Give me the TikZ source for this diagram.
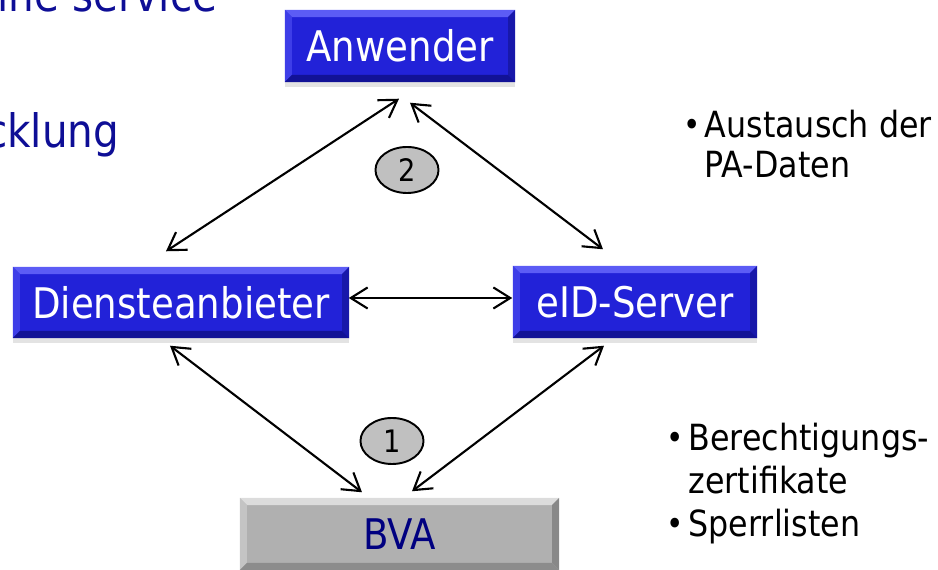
\documentclass[tikz,border=0pt]{standalone}
\usepackage{fontspec}
\setmainfont{DejaVu Sans}[FakeStretch=0.88]
\usetikzlibrary{arrows.meta,shapes.geometric,shadows}
\definecolor{boxblue}{RGB}{34,34,216}
\definecolor{bluetop}{RGB}{92,92,245}
\definecolor{blueleft}{RGB}{62,62,232}
\definecolor{blueright}{RGB}{24,24,170}
\definecolor{bluebot}{RGB}{18,18,150}
\definecolor{boxgray}{RGB}{176,176,176}
\definecolor{graytop}{RGB}{220,220,220}
\definecolor{grayleft}{RGB}{196,196,196}
\definecolor{grayright}{RGB}{136,136,136}
\definecolor{graybot}{RGB}{140,140,140}
\definecolor{titleblue}{RGB}{14,14,150}
\definecolor{bvatext}{RGB}{0,0,128}
\definecolor{ovalgray}{RGB}{192,192,192}
\tikzset{
  bevelbox/.style n args={5}{rectangle, inner sep=0pt, fill=#1,
    drop shadow={shadow xshift=0pt, shadow yshift=-1.4pt, opacity=0.22},
    path picture={
      \def\bv{2pt}
      \fill[#2] (path picture bounding box.north west) -- (path picture bounding box.north east)
        -- ([xshift=-\bv,yshift=-\bv]path picture bounding box.north east)
        -- ([xshift=\bv,yshift=-\bv]path picture bounding box.north west) -- cycle;
      \fill[#3] (path picture bounding box.north west) -- (path picture bounding box.south west)
        -- ([xshift=\bv,yshift=\bv]path picture bounding box.south west)
        -- ([xshift=\bv,yshift=-\bv]path picture bounding box.north west) -- cycle;
      \fill[#4] (path picture bounding box.north east) -- (path picture bounding box.south east)
        -- ([xshift=-\bv,yshift=\bv]path picture bounding box.south east)
        -- ([xshift=-\bv,yshift=-\bv]path picture bounding box.north east) -- cycle;
      \fill[#5] (path picture bounding box.south west) -- (path picture bounding box.south east)
        -- ([xshift=-\bv,yshift=\bv]path picture bounding box.south east)
        -- ([xshift=\bv,yshift=\bv]path picture bounding box.south west) -- cycle;
    }},
  bluebox/.style={bevelbox={boxblue}{bluetop}{blueleft}{blueright}{bluebot},
    text=white, font=\fontsize{12}{14}\selectfont},
  graybox/.style={bevelbox={boxgray}{graytop}{grayleft}{grayright}{graybot},
    text=bvatext, font=\fontsize{12}{14}\selectfont},
  oval/.style={ellipse, draw=black, line width=0.55pt, fill=ovalgray, inner sep=0pt,
    minimum width=0.63cm, minimum height=0.46cm, font=\fontsize{8.8}{10}\selectfont},
  dbl/.style={{Straight Barb[length=4.8pt,width=6pt]}-{Straight Barb[length=4.8pt,width=6pt]}, line width=0.6pt},
  bodytext/.style={font=\fontsize{10.25}{12}\selectfont, inner sep=0pt, anchor=base west},
  bul/.style={font=\fontsize{9.5}{10}\selectfont, inner sep=0pt},
  titletext/.style={font=\fontsize{13.1}{15}\selectfont, text=titleblue, inner sep=0pt, anchor=base east}
}
\begin{document}
\begin{tikzpicture}[x=0.01cm, y=-0.01cm]
\useasboundingbox (0,0) rectangle (938,570);
\clip (0,0) rectangle (938,570);

% partial slide titles
\node[titletext] (t1) at (218,12) {ine service};
\node[titletext] (t2) at (120,148) {cklung};

% boxes
\node[bluebox, minimum width=2.30cm, minimum height=0.72cm] (anw) at (400,46) {Anwender};
\node[bluebox, minimum width=3.36cm, minimum height=0.71cm] (dia) at (181,302.5) {Diensteanbieter};
\node[bluebox, minimum width=2.44cm, minimum height=0.72cm] (eid) at (635,302) {eID-Server};
\node[graybox, minimum width=3.19cm, minimum height=0.72cm] (bva) at (399.5,534) {BVA};

% ovals
\node[oval] (o2) at (407,170) {2};
\node[oval] (o1) at (392,441) {1};

% connectors
\draw[dbl] ([shift={(-1,16)}]anw.south) -- ([shift={(-15,-15)}]dia.north);
\draw[dbl] ([shift={(10,20)}]anw.south) -- ([shift={(-32,-16)}]eid.north);
\draw[dbl] ([shift={(-1,-4.5)}]dia.east) -- ([shift={(0,-4)}]eid.west);
\draw[dbl] ([shift={(-11,7)}]dia.south) -- ([shift={(-37.5,-5)}]bva.north);
\draw[dbl] ([shift={(-31,7)}]eid.south) -- ([shift={(12.5,-6)}]bva.north);

% side texts
\node[bul] (b1) at (692,128) {•};
\node[bodytext] (l1) at (704,138) {Austausch der};
\node[bodytext] (l2) at (704,178) {PA-Daten};

\node[bul] (b2) at (675,441) {•};
\node[bodytext] (l3) at (688,451) {Berechtigungs-};
\node[bodytext] (l4) at (688,494) {zertifikate};
\node[bul] (b3) at (675,527) {•};
\node[bodytext] (l5) at (688,537) {Sperrlisten};
\end{tikzpicture}
\end{document}
